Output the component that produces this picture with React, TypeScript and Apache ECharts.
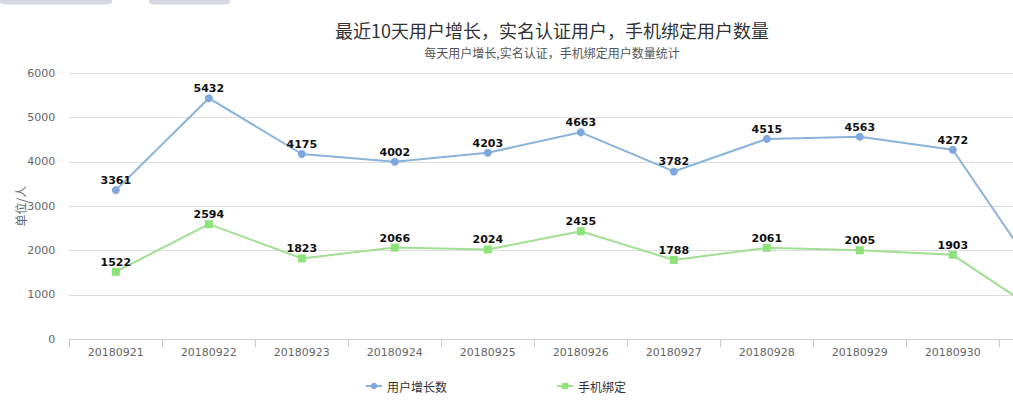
import React, { useEffect, useRef } from "react";
import * as echarts from "echarts";

const categories = ["20180921", "20180922", "20180923", "20180924", "20180925", "20180926", "20180927", "20180928", "20180929", "20180930", "20181001"];
const userGrowth = [3361, 5432, 4175, 4002, 4203, 4663, 3782, 4515, 4563, 4272, 1195];
const phoneBind = [1522, 2594, 1823, 2066, 2024, 2435, 1788, 2061, 2005, 1903, 507];
const seriesNames = ["用户增长数", "手机绑定"];
const titleText = "最近10天用户增长，实名认证用户，手机绑定用户数量";
const subText = "每天用户增长,实名认证，手机绑定用户数量统计";
const visibleCount = 10;

export default function App() {
  const ref = useRef<HTMLDivElement>(null);
  useEffect(() => {
    document.body.style.margin = "0";
    document.body.style.overflow = "hidden";
    const chart = echarts.init(ref.current!, null, { renderer: "svg" });
    const labelStyle = {
      show: true,
      position: "top",
      distance: 0,
      color: "#111",
      fontWeight: "bold",
      fontSize: 11,
      fontFamily: "DejaVu Sans",
    };
    const toData = (arr: number[]) =>
      arr.map((v, i) => (i < visibleCount ? v : { value: v, label: { show: false } }));
    chart.setOption({
      animation: false,
      backgroundColor: "#fff",
      textStyle: { fontFamily: "'Noto Sans CJK SC', sans-serif" },
      title: {
        text: titleText,
        subtext: subText,
        left: "center",
        top: 16,
        itemGap: 8,
        textStyle: { fontSize: 18, fontWeight: "normal", color: "#333", fontFamily: "'Noto Sans CJK SC', sans-serif" },
        subtextStyle: { fontSize: 12, color: "#555", fontFamily: "'Noto Sans CJK SC', sans-serif" },
      },
      legend: {
        data: seriesNames,
        left: 360,
        top: 375,
        itemGap: 109,
        itemWidth: 16,
        itemHeight: 8,
        textStyle: { fontSize: 12, color: "#333", fontFamily: "'Noto Sans CJK SC', sans-serif" },
      },
      grid: { left: 69.3, right: 11.7, top: 73, bottom: 68.7, containLabel: false, outerBoundsMode: "none" },
      xAxis: {
        type: "category",
        data: categories,
        boundaryGap: true,
        axisLine: { lineStyle: { color: "#ccc" } },
        axisTick: { show: true, length: 8, lineStyle: { color: "#ccc" } },
        axisLabel: {
          color: "#666",
          fontSize: 11,
          fontFamily: "DejaVu Sans",
          margin: 8,
          interval: 0,
          formatter: (v: string, i: number) => (i < visibleCount ? v : ""),
        },
      },
      yAxis: {
        type: "value",
        min: 0,
        max: 6000,
        interval: 1000,
        name: "单位/人",
        nameLocation: "middle",
        nameGap: 43,
        nameMoveOverlap: false,
        nameTextStyle: { color: "#666", fontSize: 12, fontFamily: "'Noto Sans CJK SC', sans-serif" },
        axisLine: { show: false },
        axisTick: { show: false },
        axisLabel: { color: "#666", fontSize: 11, fontFamily: "DejaVu Sans", margin: 14, formatter: (v: number) => String(v) },
        splitLine: { lineStyle: { color: "#ddd" } },
      },
      graphic: [
        { type: "rect", shape: { x: 0, y: -6, width: 112, height: 10.5, r: 4 }, style: { fill: "#d6d8e1" } },
        { type: "rect", shape: { x: 149, y: -6, width: 81, height: 10.5, r: 4 }, style: { fill: "#d6d8e1" } },
      ],
      series: [
        {
          name: seriesNames[0],
          type: "line",
          data: toData(userGrowth),
          symbol: "circle",
          symbolSize: 8,
          lineStyle: { color: "#8ab3dc", width: 2 },
          itemStyle: { color: "#7ea8dd" },
          label: labelStyle,
        },
        {
          name: seriesNames[1],
          type: "line",
          data: toData(phoneBind),
          symbol: "rect",
          symbolSize: 8,
          lineStyle: { color: "#a2df94", width: 2 },
          itemStyle: { color: "#8ee27a" },
          label: labelStyle,
        },
      ],
    });
    return () => chart.dispose();
  }, []);
  return <div ref={ref} style={{ position: "fixed", left: 0, top: 0, width: 1104, height: 408 }} />;
}
